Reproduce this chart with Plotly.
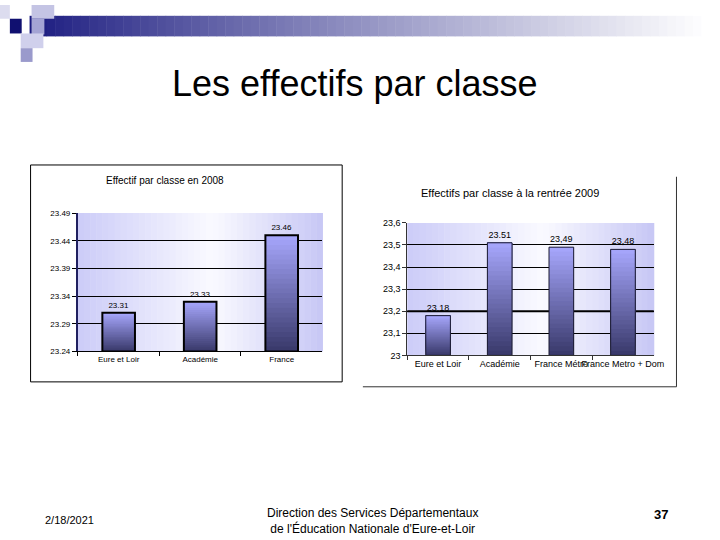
import numpy as np
import plotly.graph_objects as go

# ---------------- data ----------------
cats_2008 = ["Eure et Loir", "Académie", "France"]
vals_2008 = [23.31, 23.33, 23.45]
labels_2008 = ["23.31", "23.33", "23.46"]
ticks_2008 = [23.24, 23.29, 23.34, 23.39, 23.44, 23.49]
ticktext_2008 = ["23.24", "23.29", "23.34", "23.39", "23.44", "23.49"]

cats_2009 = ["Eure et Loir", "Académie", "France Métro", "France Metro + Dom"]
vals_2009 = [23.18, 23.51, 23.49, 23.48]
labels_2009 = ["23.18", "23.51", "23,49", "23,48"]
ticks_2009 = [23.0, 23.1, 23.2, 23.3, 23.4, 23.5, 23.6]
ticktext_2009 = ["23", "23,1", "23,2", "23,3", "23,4", "23,5", "23,6"]

FONT = "Liberation Sans, Arial, sans-serif"
W, H = 720, 540


def px(x):
    return x / W


def py(y):
    return 1 - y / H


def mix(c1, c2, t):
    return "rgb(%d,%d,%d)" % tuple(int(round(a + (b - a) * t)) for a, b in zip(c1, c2))


DARK = (58, 58, 108)
LIGHT = (165, 165, 250)

fig = go.Figure()


def add_bars(cats, vals, labels, base, xa, ya, width, line_w, line_c, fsize, n=24):
    vals = np.array(vals, dtype=float)
    for i in range(n):
        lo = base + (vals - base) * i / n
        fig.add_trace(go.Bar(
            x=cats, y=vals - lo, base=lo, width=width,
            marker=dict(color=mix(DARK, LIGHT, i / (n - 1)), line=dict(width=0)),
            xaxis=xa, yaxis=ya, showlegend=False, hoverinfo="skip"))
    fig.add_trace(go.Bar(
        x=cats, y=vals - base, base=base, width=width,
        marker=dict(color="rgba(0,0,0,0)", line=dict(color=line_c, width=line_w)),
        text=labels, textposition="outside", cliponaxis=False,
        textfont=dict(family=FONT, size=fsize, color="black"),
        xaxis=xa, yaxis=ya, showlegend=False, hoverinfo="skip"))


add_bars(cats_2008, vals_2008, labels_2008, 23.24, "x", "y", 0.4, 2, "black", 8)
add_bars(cats_2009, vals_2009, labels_2009, 23.0, "x2", "y2", 0.4, 1, "#1a1a30", 9)

shapes = []

# header gradient band
n = 80
x0, x1 = 30, 720
for i in range(n):
    t = i / (n - 1)
    shapes.append(dict(type="rect", xref="paper", yref="paper",
                       x0=px(x0 + (x1 - x0) * i / n), x1=px(x0 + (x1 - x0) * (i + 1) / n + 0.5),
                       y0=py(32), y1=py(11), line=dict(width=0),
                       fillcolor=mix((28, 28, 128), (255, 255, 255), t ** 0.9)))

# decorative squares
for (a, b, c, d, col) in [
    (0, 0, 10, 14, "#dcdcef"),
    (32, 0, 55, 14, "#c4c4e4"),
    (10, 14, 22, 29, "#101070"),
    (32, 14, 45, 30, "#a4a4d4"),
    (21, 29, 44, 44, "#d0d0ec"),
    (21, 44, 33, 58, "#9a9acc"),
]:
    shapes.append(dict(type="rect", xref="paper", yref="paper",
                       x0=px(a), x1=px(c), y0=py(d), y1=py(b),
                       line=dict(width=0), fillcolor=col))


def bg_gradient(xl, xr, yt, yb):
    m = 40
    for i in range(m):
        t = i / (m - 1)
        if t < 0.55:
            col = mix((205, 205, 248), (250, 250, 255), t / 0.55)
        else:
            col = mix((250, 250, 255), (200, 200, 245), (t - 0.55) / 0.45)
        shapes.append(dict(type="rect", xref="paper", yref="paper", layer="below",
                           x0=px(xl + (xr - xl) * i / m), x1=px(xl + (xr - xl) * (i + 1) / m + 0.5),
                           y0=py(yb), y1=py(yt), line=dict(width=0), fillcolor=col))


bg_gradient(79, 327, 212, 353)
bg_gradient(413, 663, 222, 357)

# thicker gridline at 23,2 in the 2009 chart
shapes.append(dict(type="line", xref="x2 domain", yref="y2", x0=0, x1=1, y0=23.2, y1=23.2,
                   layer="below", line=dict(color="black", width=2)))

# chart frames
shapes.append(dict(type="rect", xref="paper", yref="paper",
                   x0=px(31), x1=px(347), y0=py(384), y1=py(163),
                   line=dict(color="black", width=1)))
shapes.append(dict(type="line", xref="paper", yref="paper",
                   x0=px(686), x1=px(686), y0=py(389), y1=py(175),
                   line=dict(color="#333333", width=1)))
shapes.append(dict(type="line", xref="paper", yref="paper",
                   x0=px(368), x1=px(686), y0=py(389), y1=py(389),
                   line=dict(color="#333333", width=1)))

annotations = [
    dict(text="Les effectifs par classe", x=px(360), y=py(80), xref="paper", yref="paper",
         showarrow=False, font=dict(family=FONT, size=36, color="black"),
         xanchor="center", yanchor="middle"),
    dict(text="Effectif par classe en 2008", x=px(167), y=py(179), xref="paper", yref="paper",
         showarrow=False, font=dict(family=FONT, size=10, color="black"),
         xanchor="center", yanchor="middle"),
    dict(text="Effectifs par classe à la rentrée 2009", x=px(517), y=py(192), xref="paper", yref="paper",
         showarrow=False, font=dict(family=FONT, size=11, color="black"),
         xanchor="center", yanchor="middle"),
    dict(text="2/18/2021", x=px(70), y=py(525), xref="paper", yref="paper",
         showarrow=False, font=dict(family=FONT, size=11, color="black"),
         xanchor="center", yanchor="middle"),
    dict(text="Direction des Services Départementaux<br>de l'Éducation Nationale d'Eure-et-Loir",
         x=px(378), y=py(526), xref="paper", yref="paper",
         showarrow=False, font=dict(family=FONT, size=12, color="black"),
         xanchor="center", yanchor="middle", align="center"),
    dict(text="<b>37</b>", x=px(670), y=py(519), xref="paper", yref="paper",
         showarrow=False, font=dict(family=FONT, size=13, color="black"),
         xanchor="center", yanchor="middle"),
]

fig.update_layout(
    width=W, height=H, margin=dict(l=0, r=0, t=0, b=0),
    paper_bgcolor="white", plot_bgcolor="rgba(0,0,0,0)",
    barmode="overlay", bargap=0.6,
    shapes=shapes, annotations=annotations,
    font=dict(family=FONT, color="black"),
    xaxis=dict(domain=[px(79), px(327)], anchor="y", showline=True, linecolor="black", linewidth=1,
               ticks="outside", tickson="boundaries", ticklen=4, tickcolor="black",
               tickfont=dict(size=8, family=FONT), tickangle=0, showgrid=False),
    yaxis=dict(domain=[py(353), py(212)], anchor="x", range=[23.24, 23.49],
               tickvals=ticks_2008, ticktext=ticktext_2008, showline=True, linecolor="#202060",
               linewidth=2, ticks="outside", ticklen=4, tickcolor="black",
               tickfont=dict(size=8, family=FONT), showgrid=True, gridcolor="black", gridwidth=1,
               zeroline=False),
    xaxis2=dict(domain=[px(413), px(663)], anchor="y2", showline=True, linecolor="#333333", linewidth=1,
                ticks="outside", tickson="boundaries", ticklen=4, tickcolor="#333333",
                tickfont=dict(size=9, family=FONT), tickangle=0, showgrid=False),
    yaxis2=dict(domain=[py(357), py(222)], anchor="x2", range=[23.0, 23.6],
                tickvals=ticks_2009, ticktext=ticktext_2009, showline=True, linecolor="#333333",
                linewidth=1, ticks="outside", ticklen=4, tickcolor="#333333",
                tickfont=dict(size=9, family=FONT), showgrid=True, gridcolor="black", gridwidth=1,
                zeroline=False),
)

fig.write_html(
    "out.html",
    config={"displayModeBar": False},
    post_script="document.body.style.margin='0';document.body.style.overflow='hidden';",
)
